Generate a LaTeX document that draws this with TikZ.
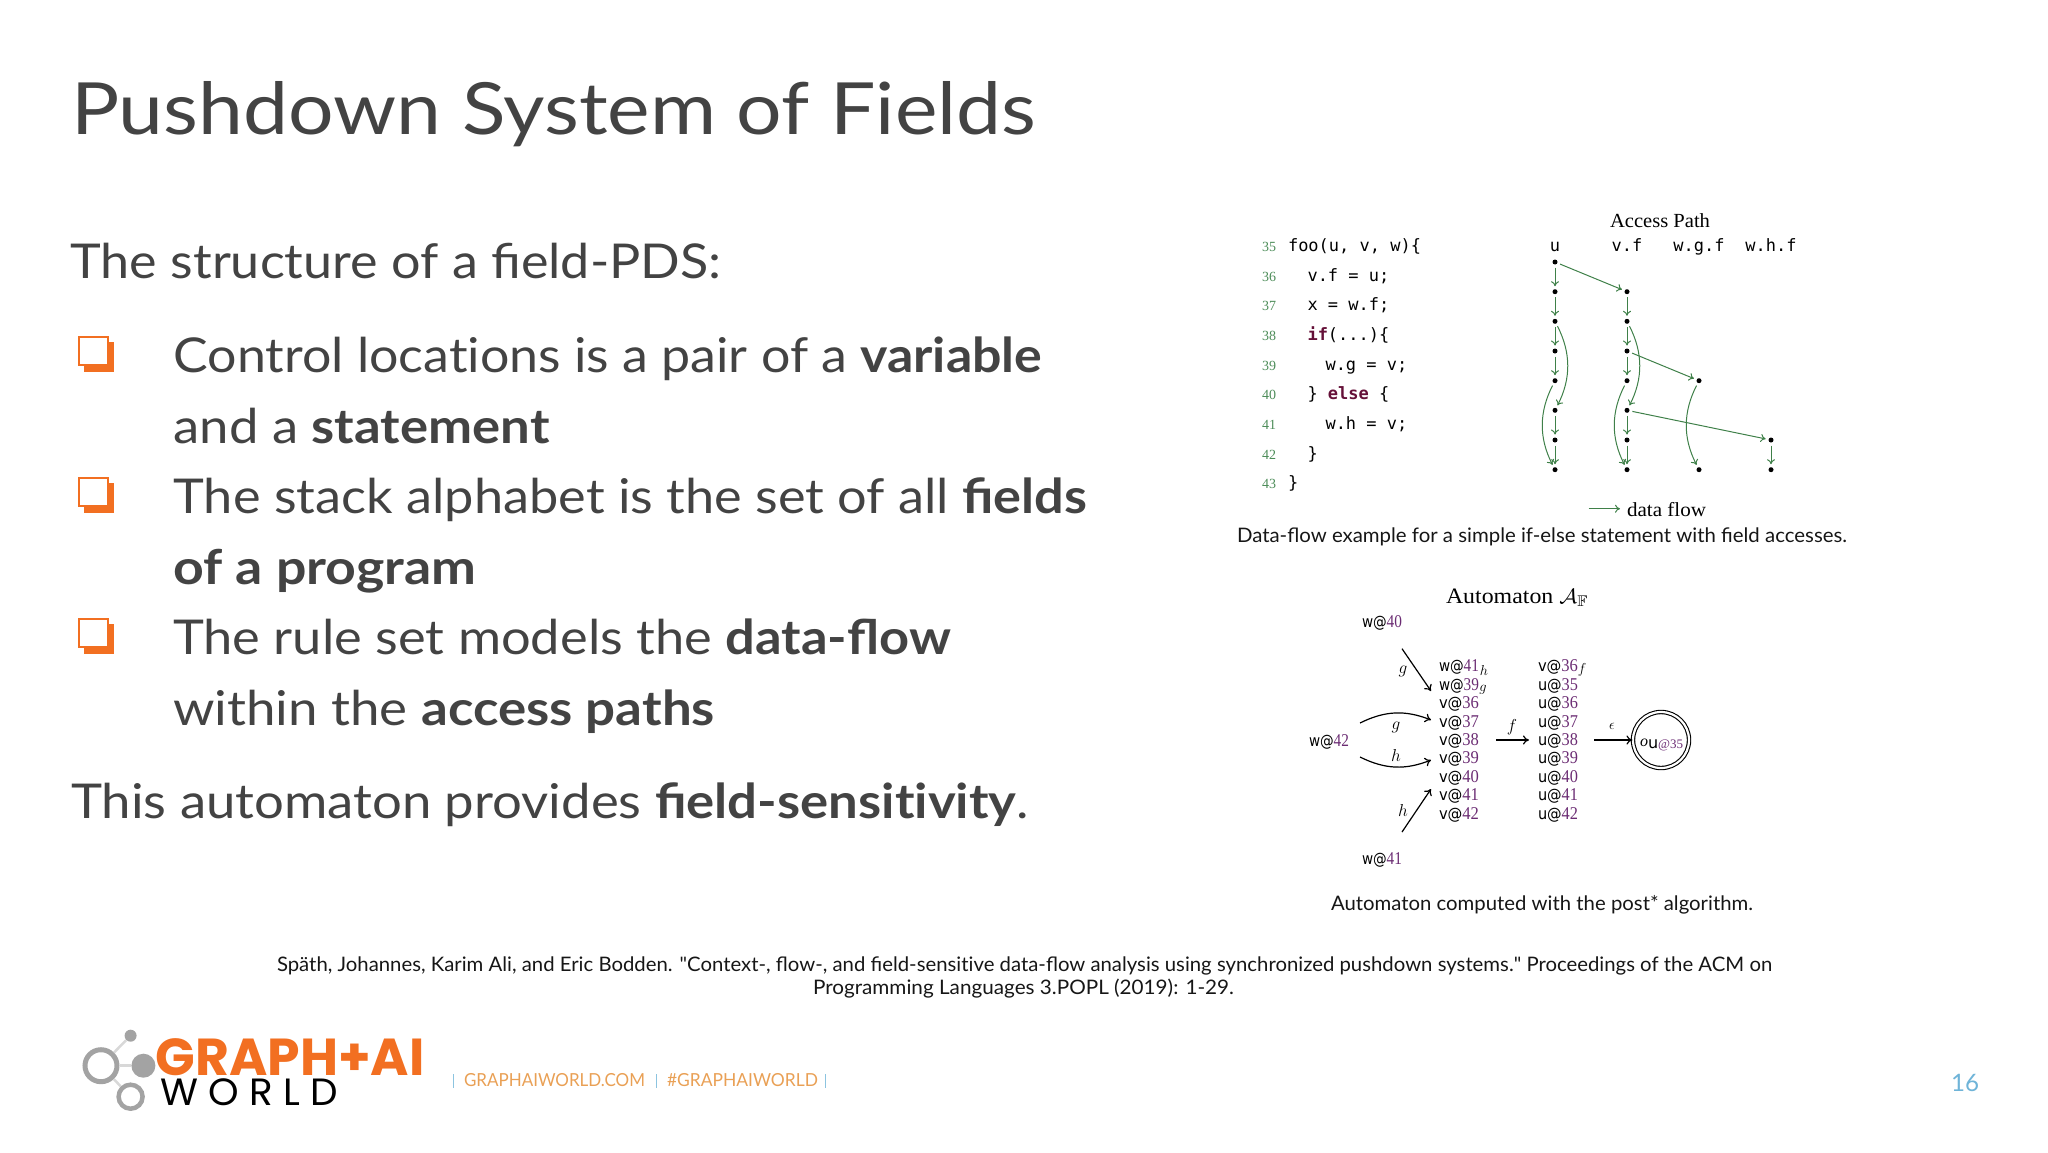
\documentclass[tikz,border=0pt]{standalone}
\usepackage{fontspec}
\usepackage{graphicx}
\usepackage{amssymb}
\usetikzlibrary{arrows.meta}
\setmainfont{Lato}
\newfontfamily\qf{Lato}
\newfontfamily\mon{DejaVu Sans Mono}
\newfontfamily\ser{Liberation Serif}
\newfontfamily\dvs{DejaVu Sans}
\newfontfamily\popf{Poppins}
\definecolor{ink}{HTML}{434343}
\definecolor{cap}{HTML}{161616}
\definecolor{flow}{HTML}{3F8049}
\definecolor{lnum}{HTML}{4C8C58}
\definecolor{pur}{HTML}{6B2C73}
\definecolor{kw}{HTML}{651038}
\definecolor{org}{HTML}{F26F21}
\definecolor{footorg}{HTML}{E9A055}
\definecolor{footblue}{HTML}{8CC4E0}
\definecolor{pageblue}{HTML}{6FB4D8}
\definecolor{lgrey}{HTML}{A3A3A3}
\definecolor{llgrey}{HTML}{D8D8D8}
\newcommand\fs[1]{\fontsize{#1}{#1}\selectfont}
\newsavebox\mybox
\newcommand\fitw[2]{\sbox\mybox{#2}\pgfmathsetmacro\myfx{#1/\wd\mybox}\scalebox{\myfx}[1]{\usebox\mybox}}
\newcommand\lab[2]{\fitw{40}{\fs{16}{\dvs #1@}{\ser\fs{18}\color{pur}#2}}}
\newcommand\kwd[1]{{\color{kw}\bfseries #1}}
\newcommand\ti{t\kern0pt i}
\tikzset{
 txt/.style={anchor=base west,inner sep=0pt,outer sep=0pt},
 ctr/.style={anchor=base,inner sep=0pt,outer sep=0pt},
 body/.style={txt,text=ink},
 capt/.style={txt,text=cap},
 code/.style={txt,text=black},
 lnm/.style={anchor=base east,inner sep=0pt,outer sep=0pt,text=lnum,font=\ser\fs{14}},
 dotn/.style={circle,fill=black,inner sep=0pt,minimum size=5pt,outer sep=0pt},
 fl/.style={draw=flow,line width=1pt,-{To[length=5pt,width=8pt]},shorten >=3pt,shorten <=3pt},
 au/.style={draw=black,line width=1.2pt,-{To[length=6pt,width=9pt]}},
 bul/.style={draw=org,line width=2pt,fill=white},
 bulb/.style={fill=org,draw=none},
 ring/.style={draw=lgrey,fill=none,circle,inner sep=0pt},
 spoke/.style={draw=llgrey,line width=2.5pt},
 mlab/.style={anchor=center,inner sep=0pt,font=\fs{18}},
 mscr/.style={anchor=center,inner sep=0pt,font=\fs{14}},
}
\begin{document}
\begin{tikzpicture}[x=1pt,y=-1pt]
\useasboundingbox (0,0) rectangle (2048,1152);

% title and body
\node[body] (title) at (71,134) {\fitw{965}{\fs{72}Pushdown System of Fields}};
\node[body] (l0) at (70.5,278.5) {\fitw{651}{\fs{48}The structure of a field-PDS:}};
\node[body] (l1) at (173.5,372.5) {\fitw{869}{\fs{48}Control loca\ti ons is a pair of a \textbf{variable}}};
\node[body] (l2) at (173.5,443.5) {\fitw{376}{\fs{48}and a \textbf{statement}}};
\node[body] (l3) at (173.5,513.5) {\fitw{914}{\fs{48}The stack alphabet is the set of all \textbf{fields}}};
\node[body] (l4) at (173.5,584.5) {\fitw{303}{\fs{48}\textbf{of a program}}};
\node[body] (l5) at (173,654.5) {\fitw{778}{\fs{48}The rule set models the \textbf{data-flow}}};
\node[body] (l6) at (173,725.5) {\fitw{542}{\fs{48}within the \textbf{access paths}}};
\node[body] (l7) at (71,818) {\fitw{958}{\fs{48}This automaton provides \textbf{field-sensi\ti vity}.}};

% bullets
\foreach \dy in {0,141,282}{
 \fill[bulb] (84,{342+\dy}) rectangle (114,{372+\dy});
 \draw[bul] (79,{337+\dy}) rectangle (107.5,{365+\dy});
}

% code listing
\foreach \n/\yy in {35/251.5,36/281.2,37/310.9,38/340.5,39/370.2,40/399.9,41/429.5,42/459.2,43/488.9}{
 \node[lnm] (n\n) at (1276,\yy) {\n};
}
\newcommand\cd{\mon\fs{17}}
\node[code] (c35) at (1288,251) {\cd foo(u, v, w)\{};
\node[code] (c36) at (1307.5,281) {\cd v.f = u;};
\node[code] (c37) at (1307.5,310.5) {\cd x = w.f;};
\node[code] (c38) at (1307.5,340) {\cd\kwd{if}(...)\{};
\node[code] (c39) at (1325.5,370) {\cd w.g = v;};
\node[code] (c40) at (1307.5,399.5) {\cd \} \kwd{else} \{};
\node[code] (c41) at (1325.5,429) {\cd w.h = v;};
\node[code] (c42) at (1307.5,459) {\cd \}};
\node[code] (c43) at (1288,488.5) {\cd \}};

% access path graph
\node[ctr,text=black] (ap) at (1660,227) {\fitw{100}{\ser\fs{20}Access Path}};
\node[ctr] (hu) at (1555,251) {\cd u};
\node[ctr] (hv) at (1627,251) {\cd v.f};
\node[ctr] (hg) at (1699,251) {\cd w.g.f};
\node[ctr] (hh) at (1771,251) {\cd w.h.f};
\foreach \r/\yy in {0/262,1/291.7,2/321.3,3/351,4/380.7,5/410.3,6/440,7/469.7}{
 \node[dotn] (u\r) at (1555,\yy) {};
}
\foreach \r/\yy in {1/291.7,2/321.3,3/351,4/380.7,5/410.3,6/440,7/469.7}{
 \node[dotn] (v\r) at (1627,\yy) {};
}
\node[dotn] (g4) at (1699,380.7) {};
\node[dotn] (g7) at (1699,469.7) {};
\node[dotn] (h6) at (1771,440) {};
\node[dotn] (h7) at (1771,469.7) {};
\foreach \a/\b in {0/1,1/2,2/3,3/4,5/6,6/7}{ \draw[fl] (u\a) -- (u\b); }
\foreach \a/\b in {1/2,2/3,3/4,5/6,6/7}{ \draw[fl] (v\a) -- (v\b); }
\draw[fl] (u0) -- (v1);
\draw[fl] (v3) -- (g4);
\draw[fl] (v5) -- (h6);
\draw[fl] (h6) -- (h7);
\draw[fl] (u2) to[bend left=27] (u5);
\draw[fl] (v2) to[bend left=27] (v5);
\draw[fl] (u4) to[bend right=27] (u7);
\draw[fl] (v4) to[bend right=27] (v7);
\draw[fl] (g4) to[bend right=27] (g7);
\coordinate (lg1) at (1588.6,508.7);
\node[txt,text=black] (lgt) at (1627,516) {\fitw{79}{\ser\fs{20}data flow}};
\coordinate (lg2) at (1620,508.7);
\draw[draw=flow,line width=1pt,-{To[length=5pt,width=8pt]}] (lg1) -- (lg2);
\node[capt] (cap1) at (1237,542) {\fitw{610}{\fs{20}Data-flow example for a simple if-else statement with field accesses.}};

% automaton
\node[txt,text=black] (autt) at (1446,603) {\fitw{142}{\ser\fs{22}Automaton $\mathcal{A}_{\mathbb{F}}$}};
\node[txt] (w40) at (1362,627) {\lab{w}{40}};
\node[txt] (w42) at (1309,746) {\lab{w}{42}};
\node[txt] (w41) at (1362,864) {\lab{w}{41}};
\node[txt] (a0) at (1439,671.7) {\lab{w}{41}};
\node[txt] (a1) at (1439,690) {\lab{w}{39}};
\foreach \n/\yy in {36/708.3,37/727,38/745.3,39/763.7,40/782.3,41/800.7,42/819}{
 \node[txt] (av\n) at (1439,\yy) {\lab{v}{\n}};
}
\node[txt] (b0) at (1538,671.7) {\lab{v}{36}};
\foreach \n/\yy in {35/690,36/708.3,37/727,38/745.3,39/763.7,40/782.3,41/800.7,42/819}{
 \node[txt] (bu\n) at (1538,\yy) {\lab{u}{\n}};
}
\node[mscr] (sh) at (1484,670) {$h$};
\node[mscr] (sg) at (1483,690) {$g$};
\node[mscr] (sf) at (1582,670) {$f$};
\coordinate (g1s) at (1402,648.7);
\coordinate (g1e) at (1431,691);
\coordinate (g2s) at (1360,723);
\coordinate (g2e) at (1431,720);
\coordinate (h2s) at (1360,757);
\coordinate (h2e) at (1431,760);
\coordinate (h1s) at (1402,832);
\coordinate (h1e) at (1431,789);
\coordinate (fs1) at (1496,740);
\coordinate (fe1) at (1529,740);
\draw[au] (g1s) -- (g1e);
\draw[au] (g2s) to[bend left=24] (g2e);
\draw[au] (h2s) to[bend right=24] (h2e);
\draw[au] (h1s) -- (h1e);
\draw[au] (fs1) -- (fe1);
\node[mlab] (lg) at (1403,671) {$g$};
\node[mlab] (lg2n) at (1396,727) {$g$};
\node[mlab] (lhn) at (1396,755) {$h$};
\node[mlab] (lh) at (1403,810) {$h$};
\node[mlab] (lf) at (1512,727) {$f$};
\node[circle,draw=black,line width=1.1pt,double,double distance=2.2pt,minimum size=56pt,inner sep=0pt] (acc) at (1661,740) {};
\node[txt] (acct) at (1640,748) {\fs{16}{\ser\raisebox{2pt}{\textit{o}}}{\dvs u}{\ser\fs{13}\color{pur}@35}};
\coordinate (es) at (1594,740);
\draw[au] (es) -- (acc);
\node[mscr] (le) at (1612,726) {$\epsilon$};
\node[capt] (cap2) at (1331,910.5) {\fitw{422}{\fs{20}Automaton computed with the post* algorithm.}};

% citation
\node[capt] (cit1) at (277,971) {\fitw{1495}{\fs{20}Späth, Johannes, Karim Ali, and Eric Bodden. {\qf"}Context-, flow-, and field-sensi\ti ve data-flow analysis using synchronized pushdown systems.{\qf"} Proceedings of the ACM on}};
\node[capt] (cit2) at (813,994.5) {\fitw{421}{\fs{20}Programming Languages 3.POPL (2019): 1-29.}};

% logo
\node[ring,line width=5pt,minimum size=32pt] (r1) at (101,1065.7) {};
\node[ring,line width=4.5pt,minimum size=24pt] (r2) at (130.6,1096.7) {};
\node[circle,fill=lgrey,inner sep=0pt,minimum size=12pt] (d1) at (130.6,1035.7) {};
\node[circle,fill=lgrey,inner sep=0pt,minimum size=24pt] (d2) at (143.4,1065.7) {};
\draw[spoke] (r1) -- (d1);
\draw[spoke] (r1) -- (d2);
\draw[spoke] (r1) -- (r2);
\node[txt,text=org] (gr) at (155.6,1075) {\fitw{269}{\popf\bfseries\fs{52}GRAPH+AI}};
\node[txt,text=black] (wd) at (160,1105.7) {\fitw{178}{\popf\fs{38}W O R L D}};

% footer
\node[txt,text=footorg] (f1) at (464,1086) {\fitw{181}{\fs{18}GRAPHAIWORLD.COM}};
\node[txt,text=footorg] (f2) at (667,1086) {\fitw{151}{\fs{18}\#GRAPHAIWORLD}};
\coordinate (s1a) at (453,1074); \coordinate (s1b) at (453,1088);
\coordinate (s2a) at (656.6,1074); \coordinate (s2b) at (656.6,1088);
\coordinate (s3a) at (825,1074); \coordinate (s3b) at (825,1088);
\draw[footblue,line width=1pt] (s1a) -- (s1b);
\draw[footblue,line width=1pt] (s2a) -- (s2b);
\draw[footblue,line width=1pt] (s3a) -- (s3b);
\node[txt,text=pageblue] (pg) at (1951,1091) {\fitw{28}{\fs{24}16}};
\end{tikzpicture}
\end{document}
